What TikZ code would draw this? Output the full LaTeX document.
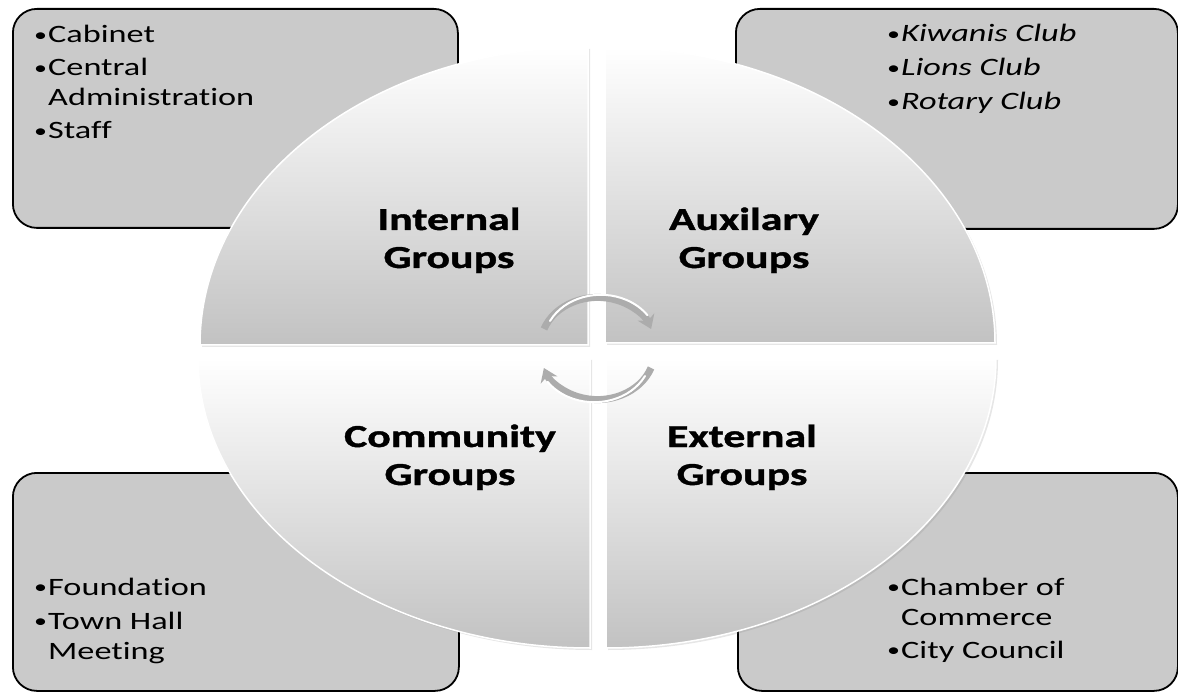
\documentclass[tikz,border=0pt]{standalone}
\usepackage{fontspec}
\setmainfont{Carlito}[FakeStretch=1.37, RawFeature=-liga, BoldFeatures={FakeBold=1.2}]
\usetikzlibrary{arrows.meta,positioning,shadows}
\definecolor{boxgray}{RGB}{202,202,202}
\definecolor{quadgray}{RGB}{194,194,194}
\newcommand\itembul{\makebox[15pt][l]{\hspace{1pt}\raisebox{1.5pt}{\fontsize{19}{19}\selectfont\textbullet}}}

\begin{document}
\begin{tikzpicture}[
    x=1pt, y=-1pt,
    grpbox/.style={draw=black, line width=1.8pt, rounded corners=24pt, fill=boxgray, anchor=north west, inner sep=0pt},
    quad/.style={top color=white, bottom color=quadgray, draw=white, line width=1.5pt,
      drop shadow={opacity=0.2, shadow xshift=2pt, shadow yshift=-2pt}},
    lbl/.style={font=\fontsize{32}{38}\selectfont\bfseries, anchor=base, inner sep=0pt},
    lst/.style={font=\fontsize{25}{30}\selectfont, anchor=base west, inner sep=0pt},
    cyc/.style={line width=7pt, draw=gray!65, -{Stealth[length=13pt,width=18pt]}},
    cychl/.style={line width=2pt, draw=white, line cap=round}
  ]
  \useasboundingbox (0,0) rectangle (1178,692);

  % corner boxes
  \node[grpbox, minimum width=445pt, minimum height=219pt] (intbox) at (12,8) {};
  \node[grpbox, minimum width=442pt, minimum height=220pt] (auxbox) at (735,8) {};
  \node[grpbox, minimum width=446pt, minimum height=218pt] (combox) at (12,472) {};
  \node[grpbox, minimum width=440pt, minimum height=218pt] (extbox) at (737,472) {};

  \node[lst] (intlist) at (33,43) {\begin{tabular}[t]{@{}l@{}l@{}}
      \itembul & Cabinet\\[3pt]
      \itembul & Central\\
               & Administration\\[3pt]
      \itembul & Staff
    \end{tabular}};
  \node[lst] (auxlist) at (886,42) {\begin{tabular}[t]{@{}l@{}l@{}}
      \itembul & \textit{Kiwanis Club}\\[4pt]
      \itembul & \textit{Lions Club}\\[4pt]
      \itembul & \textit{Rotary Club}
    \end{tabular}};
  \node[lst] (comlist) at (33,595) {\begin{tabular}[t]{@{}l@{}l@{}}
      \itembul & Foundation\\[4pt]
      \itembul & Town Hall\\
               & Meeting
    \end{tabular}};
  \node[lst] (extlist) at (886,595) {\begin{tabular}[t]{@{}l@{}l@{}}
      \itembul & Chamber of\\
               & Commerce\\[3pt]
      \itembul & City Council
    \end{tabular}};

  % the four quarters
  \path[quad] (588,345) -- (200,345) arc[start angle=180, end angle=270, x radius=388, y radius=298] -- cycle;
  \path[quad] (605,343) -- (605,47) arc[start angle=270, end angle=360, x radius=390, y radius=296] -- cycle;
  \path[quad] (606,358) -- (996,358) arc[start angle=0, end angle=90, x radius=390, y radius=290] -- cycle;
  \path[quad] (590,358) -- (590,648) arc[start angle=90, end angle=180, x radius=392, y radius=290] -- cycle;

  \node[lbl] (internal) at (449,230) {\begin{tabular}[t]{@{}c@{}}Internal\\Groups\end{tabular}};
  \node[lbl] (auxilary) at (744,230) {\begin{tabular}[t]{@{}c@{}}Auxilary\\Groups\end{tabular}};
  \node[lbl] (community) at (450,447) {\begin{tabular}[t]{@{}c@{}}Community\\Groups\end{tabular}};
  \node[lbl] (external) at (742,447) {\begin{tabular}[t]{@{}c@{}}External\\Groups\end{tabular}};

  % cycle arrows
  \draw[cyc] (544,329) arc[start angle=200, end angle=340, x radius=57, y radius=48];
  \draw[cychl] (550,321) arc[start angle=207, end angle=325, x radius=57, y radius=48];
  \draw[cyc] (651,368) arc[start angle=20, end angle=160, x radius=57, y radius=48];
  \draw[cychl] (645,376) arc[start angle=27, end angle=145, x radius=57, y radius=48];
\end{tikzpicture}
\end{document}
